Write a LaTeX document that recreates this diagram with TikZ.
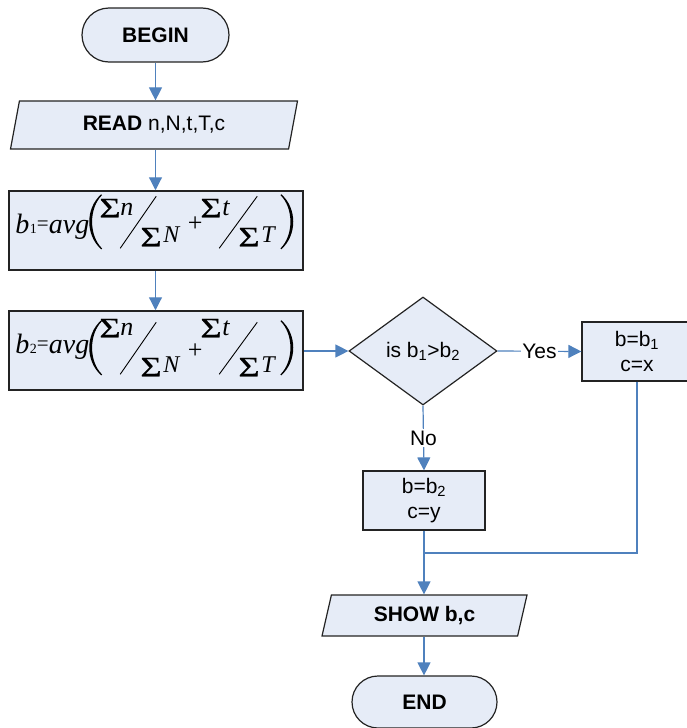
\documentclass[tikz,border=0pt]{standalone}
\usepackage{fontspec}
\setmainfont{Liberation Sans}
\newfontfamily\fser{Liberation Serif}
\newfontfamily\fsersum[FakeBold=0.6]{Liberation Serif}
\usetikzlibrary{shapes.geometric,arrows.meta}
\definecolor{boxfill}{RGB}{230,236,247}
\definecolor{flowblue}{RGB}{79,129,189}
\definecolor{edgegray}{RGB}{35,35,35}

% wide summation sign
\newcommand\bigsum{\scalebox{1.3}[1]{Σ}}

% b = avg( sum n / sum N + sum t / sum T ), laid out inside box #1
% #2: index of b, #3: extra drop of the lower terms
\newcommand\avgformula[3]{%
  \begin{scope}[shift={(#1.north west)}]
    \node[fml, font=\fser\itshape\fontsize{28}{28}\selectfont] at (7,43) {b};
    \node[fml, font=\fser\fontsize{14}{14}\selectfont] at (21.5,43) {#2};
    \node[inner sep=0pt, font=\fser\fontsize{21}{21}\selectfont] at (34.5,35.5) {=};
    \node[fml, font=\fser\itshape\fontsize{28}{28}\selectfont] at (40.5,43) {avg};
    % parentheses
    \fill (93,{4+0.6*#3}) .. controls (77,{18+0.6*#3}) and (77,{45+0.6*#3}) .. (93,{59+0.6*#3})
      -- (93.8,{58.2+0.6*#3}) .. controls (80.5,{45+0.6*#3}) and (80.5,{18+0.6*#3}) .. (93.8,{4.8+0.6*#3}) -- cycle;
    \fill (273,{4+0.6*#3}) .. controls (289,{18+0.6*#3}) and (289,{45+0.6*#3}) .. (273,{59+0.6*#3})
      -- (272.2,{58.2+0.6*#3}) .. controls (285.5,{45+0.6*#3}) and (285.5,{18+0.6*#3}) .. (272.2,{4.8+0.6*#3}) -- cycle;
    % first fraction
    \node[fml, font=\fsersum\fontsize{28}{28}\selectfont] at (91,27) {\bigsum};
    \node[fml, font=\fser\itshape\fontsize{26}{26}\selectfont] at (112,25) {n};
    \draw[line width=0.9pt] (112,{58+0.6*#3}) -- (148,{6+0.6*#3});
    \node[fml, font=\fsersum\fontsize{28}{28}\selectfont] at (132,{56+#3}) {\bigsum};
    \node[fml, font=\fser\itshape\fontsize{24}{24}\selectfont] at (155,{52+#3}) {N};
    \node[inner sep=0pt, font=\fser\fontsize{26}{26}\selectfont] at (187,{34+0.7*#3}) {+};
    % second fraction
    \node[fml, font=\fsersum\fontsize{28}{28}\selectfont] at (192,27) {\bigsum};
    \node[fml, font=\fser\itshape\fontsize{26}{26}\selectfont] at (214,25) {t};
    \draw[line width=0.9pt] (211,{58+0.6*#3}) -- (249,{6+0.6*#3});
    \node[fml, font=\fsersum\fontsize{28}{28}\selectfont] at (230,{56+#3}) {\bigsum};
    \node[fml, font=\fser\itshape\fontsize{24}{24}\selectfont] at (253,{52+#3}) {T};
  \end{scope}}

\begin{document}
\begin{tikzpicture}[x=1pt, y=-1pt,
  base/.style={draw=edgegray, line width=1.2pt, fill=boxfill, inner sep=0pt,
    align=center, font=\fontsize{21}{25}\selectfont},
  terminal/.style={base, rectangle, font=\bfseries\fontsize{21}{25}\selectfont},
  io/.style={base, trapezium, trapezium stretches body},
  proc/.style={base, rectangle},
  decision/.style={base, diamond, minimum width=148pt, minimum height=108pt},
  flow/.style={draw=flowblue, line width=1.2pt, -{Triangle[length=13pt,width=13pt]}},
  link/.style={draw=flowblue, line width=1.2pt},
  lab/.style={fill=white, inner sep=1.5pt, font=\fontsize{21}{25}\selectfont},
  fml/.style={anchor=base west, inner sep=0pt}
]
\useasboundingbox (0,0) rectangle (686,728);

\node[terminal, rounded corners=27pt, minimum width=147pt, minimum height=54pt] (start) at (155.5,35) {BEGIN};
\node[io, trapezium left angle=62.5, trapezium right angle=117.5,
      minimum width=287pt, minimum height=48pt] (read) at (154,125) {\textbf{READ} n,N,t,T,c};
\node[proc, line width=1.5pt, minimum width=294pt, minimum height=79pt] (b1) at (156,230.5) {};
\node[proc, line width=1.5pt, minimum width=294pt, minimum height=79pt] (b2) at (156,350.5) {};
\avgformula{b1}{1}{0}
\avgformula{b2}{2}{10}
\node[decision] (dia) at (423,351) {is b\textsubscript{1}>b\textsubscript{2}};
\node[proc, minimum width=110pt, minimum height=59pt] (yesbox) at (637,351.5) {b=b\textsubscript{1}\\c=x};
\node[proc, minimum width=122pt, minimum height=59pt] (nobox) at (424,500.5) {b=b\textsubscript{2}\\c=y};
\node[io, trapezium left angle=63, trapezium right angle=117,
      minimum width=205pt, minimum height=41pt, font=\bfseries\fontsize{21}{25}\selectfont] (show) at (424.5,615.5) {SHOW b,c};
\node[terminal, rounded corners=26pt, minimum width=145pt, minimum height=52pt] (finish) at (424.5,702) {END};
\coordinate (join) at (424,553);

\draw[flow] (start.south) -- (start.south |- read.north);
\draw[flow] (read.south -| start.south) -- (start.south |- b1.north);
\draw[flow] (b1.south -| start.south) -- (start.south |- b2.north);
\draw[flow] (b2.east |- dia.west) -- (dia.west);
\draw[flow] (dia.east) -- node[lab] {Yes} (yesbox.west);
\draw[flow] (dia.south) -- node[lab] {No} (nobox.north);
\draw[link] (yesbox.south) |- (join);
\draw[flow] (nobox.south) -- (nobox.south |- show.north);
\draw[flow] (show.south -| nobox.south) -- (nobox.south |- finish.north);
\end{tikzpicture}
\end{document}
